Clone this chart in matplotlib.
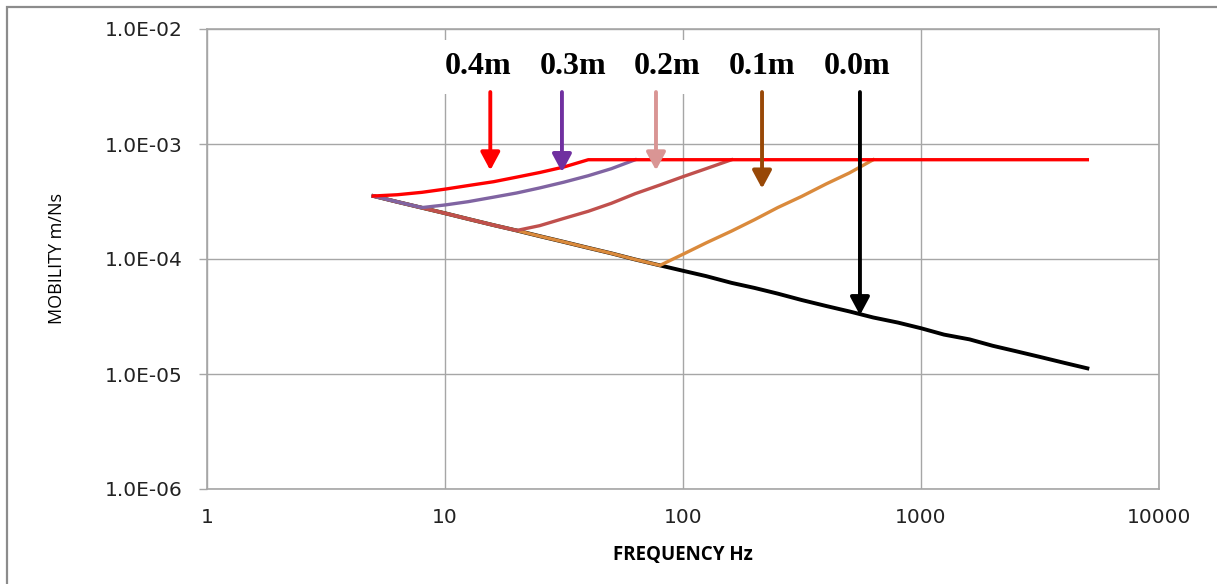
import matplotlib
matplotlib.use("Agg")
import matplotlib.pyplot as plt
from matplotlib.patches import Rectangle
from matplotlib.ticker import FixedLocator, FixedFormatter, NullLocator

# ---- data ----
freq_base = [5, 6.3, 8, 10, 12.5, 16, 20, 25, 31.5, 40, 50, 63, 80, 100, 125, 160,
             200, 250, 315, 400, 500, 630, 800, 1000, 1250, 1600, 2000, 2500, 3150, 4000, 5000]
mob_base = [3.53e-4, 3.14e-4, 2.79e-4, 2.50e-4, 2.23e-4, 1.97e-4, 1.77e-4, 1.58e-4, 1.41e-4,
            1.25e-4, 1.12e-4, 9.9e-5, 8.8e-5, 7.9e-5, 7.1e-5, 6.2e-5, 5.6e-5, 5.0e-5, 4.4e-5,
            3.9e-5, 3.5e-5, 3.1e-5, 2.8e-5, 2.5e-5, 2.2e-5, 2.0e-5, 1.76e-5, 1.58e-5, 1.41e-5,
            1.25e-5, 1.12e-5]

# 0.1 m : base up to 80 Hz, then rising
freq_01 = [5, 6.3, 8, 10, 12.5, 16, 20, 25, 31.5, 40, 50, 63, 80, 100, 125, 160, 200, 250, 315, 400, 500, 630]
mob_01 = [3.53e-4, 3.14e-4, 2.79e-4, 2.50e-4, 2.23e-4, 1.97e-4, 1.77e-4, 1.58e-4, 1.41e-4,
          1.25e-4, 1.12e-4, 9.9e-5, 8.8e-5, 1.1e-4, 1.38e-4, 1.75e-4, 2.2e-4, 2.8e-4, 3.5e-4,
          4.5e-4, 5.6e-4, 7.3e-4]

# 0.2 m : base up to 20 Hz, then rising
freq_02 = [5, 6.3, 8, 10, 12.5, 16, 20, 25, 31.5, 40, 50, 63, 80, 100, 125, 160]
mob_02 = [3.53e-4, 3.14e-4, 2.79e-4, 2.50e-4, 2.23e-4, 1.97e-4, 1.77e-4, 1.95e-4, 2.25e-4,
          2.6e-4, 3.05e-4, 3.7e-4, 4.4e-4, 5.2e-4, 6.1e-4, 7.3e-4]

# 0.3 m : base up to 8 Hz, then rising
freq_03 = [5, 6.3, 8, 10, 12.5, 16, 20, 25, 31.5, 40, 50, 63]
mob_03 = [3.53e-4, 3.14e-4, 2.80e-4, 2.95e-4, 3.15e-4, 3.45e-4, 3.75e-4, 4.15e-4, 4.65e-4,
          5.3e-4, 6.1e-4, 7.3e-4]

# 0.4 m : rising from 5 Hz to 40 Hz, then flat to 5000 Hz
freq_04 = [5, 6.3, 8, 10, 12.5, 16, 20, 25, 31.5, 40, 5000]
mob_04 = [3.53e-4, 3.62e-4, 3.8e-4, 4.05e-4, 4.35e-4, 4.7e-4, 5.15e-4, 5.65e-4, 6.3e-4,
          7.3e-4, 7.3e-4]

labels = ["0.4m", "0.3m", "0.2m", "0.1m", "0.0m"]
label_freq = [13.8, 34.5, 86.1, 214.8, 541]
arrow_freq = [15.5, 31.0, 77.0, 214.8, 554]
arrow_top = [2.83e-3, 2.83e-3, 2.83e-3, 2.83e-3, 2.83e-3]
arrow_tip = [5.9e-4, 5.7e-4, 5.9e-4, 4.1e-4, 3.25e-5]
arrow_colors = ["#FF0000", "#7030A0", "#D99594", "#984807", "#000000"]

xticks = [1, 10, 100, 1000, 10000]
xtick_labels = ["1", "10", "100", "1000", "10000"]
yticks = [1e-6, 1e-5, 1e-4, 1e-3, 1e-2]
ytick_labels = ["1.0E-06", "1.0E-05", "1.0E-04", "1.0E-03", "1.0E-02"]

# ---- figure ----
W, H = 1217, 584
fig = plt.figure(figsize=(W / 100, H / 100), dpi=100)
ax = fig.add_axes([207 / W, 1 - 489 / H, (1159 - 207) / W, (489 - 29) / H])
ax.set_xscale("log")
ax.set_yscale("log")
ax.set_xlim(1, 10000)
ax.set_ylim(1e-6, 1e-2)

grid_c = "#A6A6A6"
ax.xaxis.set_major_locator(FixedLocator(xticks))
ax.xaxis.set_major_formatter(FixedFormatter(xtick_labels))
ax.yaxis.set_major_locator(FixedLocator(yticks))
ax.yaxis.set_major_formatter(FixedFormatter(ytick_labels))
ax.xaxis.set_minor_locator(NullLocator())
ax.yaxis.set_minor_locator(NullLocator())
ax.grid(True, color=grid_c, linewidth=1.0)
ax.set_axisbelow(True)
for s in ax.spines.values():
    s.set_color(grid_c)
    s.set_linewidth(1.2)
ax.tick_params(axis="x", length=0, pad=13.5, labelsize=14.5, labelcolor="#222222")
ax.tick_params(axis="y", length=5.8, width=1, color=grid_c, pad=11.5, labelsize=14.5,
               labelcolor="#222222")

lw = 2.4
ax.plot(freq_base, mob_base, color="#000000", lw=2.8, solid_joinstyle="round", zorder=2)
ax.plot(freq_01, mob_01, color="#DA8A3C", lw=lw, solid_joinstyle="round", zorder=2.1)
ax.plot(freq_02, mob_02, color="#C0504D", lw=lw, solid_joinstyle="round", zorder=2.2)
ax.plot(freq_03, mob_03, color="#8064A2", lw=lw, solid_joinstyle="round", zorder=2.3)
ax.plot(freq_04, mob_04, color="#FF0000", lw=lw, solid_joinstyle="round", zorder=2.4)

for lab, lf in zip(labels, label_freq):
    ax.text(lf, 4.7e-3, lab, ha="center", va="center", fontsize=23, fontweight="bold",
            family="Liberation Serif", color="black", zorder=3,
            bbox=dict(facecolor="white", edgecolor="none", pad=9))

for af, top, tip, c in zip(arrow_freq, arrow_top, arrow_tip, arrow_colors):
    ax.annotate("", xy=(af, tip), xytext=(af, top),
                arrowprops=dict(arrowstyle="-|>,head_length=1.08,head_width=0.58",
                                color=c, lw=2.8, shrinkA=0, shrinkB=0, mutation_scale=10),
                zorder=4)

ax.set_xlabel("FREQUENCY Hz", fontsize=13.5, fontweight="bold", family="Open Sans", labelpad=13)
ax.set_ylabel("MOBILITY m/Ns", fontsize=13, family="Open Sans", labelpad=28)

# outer chart-area border
fig.patches.append(Rectangle((7 / W, -0.1), 1.2, 1 - 7 / H + 0.1, transform=fig.transFigure,
                             facecolor="none", edgecolor="#8C8C8C", linewidth=1.6))

fig.savefig("out.png", dpi=100)
